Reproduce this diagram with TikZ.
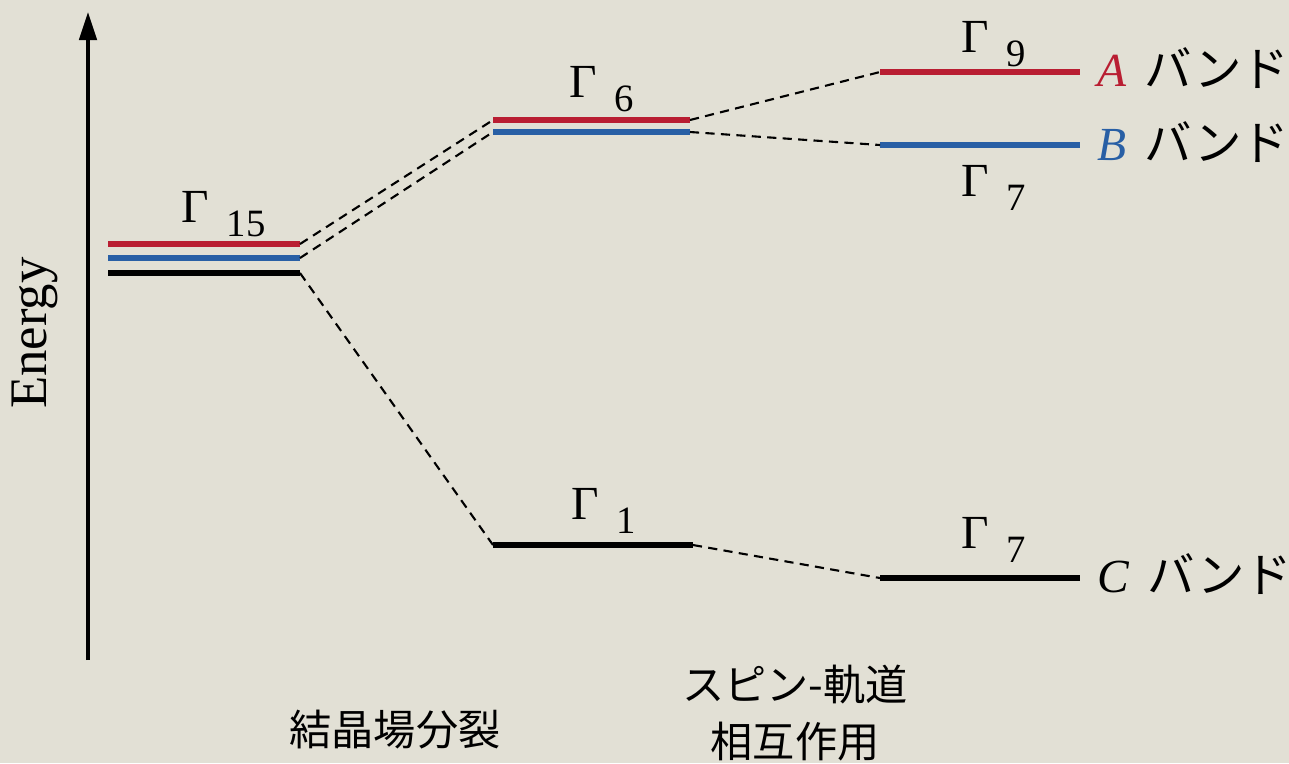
\documentclass[tikz,border=0pt]{standalone}
\usepackage{fontspec}
\setmainfont{Liberation Serif}
\newfontfamily\jpfont{Noto Sans CJK JP}
\usepackage{xcolor}
\definecolor{pagebg}{RGB}{226,224,213}
\definecolor{bandred}{RGB}{185,30,50}
\definecolor{bandblue}{RGB}{40,95,165}
\usetikzlibrary{arrows.meta}
% Gamma with lowered index
\newcommand{\glab}[1]{Γ\hspace{5pt}\raisebox{-4pt}{\fontsize{11pt}{12pt}\selectfont #1}}

\begin{document}
\begin{tikzpicture}[x=0.01cm, y=-0.01cm,
    level/.style={line width=1.5pt},
    link/.style={line width=0.6pt, dash pattern=on 2.6pt off 1.8pt},
    gam/.style={anchor=base west, inner sep=0pt, font=\fontsize{13.5pt}{15pt}\selectfont},
    band/.style={anchor=base west, inner sep=0pt, font=\fontsize{13.5pt}{15pt}\selectfont},
    jlab/.style={font=\jpfont\fontsize{12pt}{16pt}\selectfont, align=center}]

% === Page ===
\fill[pagebg] (0,0) rectangle (1289,763);
\useasboundingbox (0,0) rectangle (1289,763);

% === Energy axis ===
\coordinate (ebot) at (88,660);
\coordinate (etop) at (88,12);
\draw[line width=0.9pt, -{Triangle[length=8pt,width=5pt]}] (ebot) -- (etop);
\node[rotate=90, font=\fontsize{15pt}{17pt}\selectfont] (energy) at (35,333) {Energy};

% === Gamma 15 (three levels) ===
\foreach \nm/\y/\col in {a/244/bandred, b/258/bandblue, c/273/black} {
    \coordinate (g15\nm L) at (108,\y);
    \coordinate (g15\nm R) at (300,\y);
    \draw[level, \col] (g15\nm L) -- (g15\nm R);
}
\node[gam] (g15lab) at (181,222) {\glab{15}};

% === Crystal field: Gamma 6 and Gamma 1 ===
\foreach \nm/\y/\col in {a/120/bandred, b/132/bandblue} {
    \coordinate (g6\nm L) at (493,\y);
    \coordinate (g6\nm R) at (690,\y);
    \draw[level, \col] (g6\nm L) -- (g6\nm R);
}
\node[gam] (g6lab) at (569,97) {\glab{6}};

\coordinate (g1L) at (493,545);
\coordinate (g1R) at (693,545);
\draw[level] (g1L) -- (g1R);
\node[gam] (g1lab) at (571,519) {\glab{1}};

% === Spin-orbit: A, B, C bands ===
\coordinate (aL) at (880,72);  \coordinate (aR) at (1080,72);
\coordinate (bL) at (880,145); \coordinate (bR) at (1080,145);
\coordinate (cL) at (880,578); \coordinate (cR) at (1080,578);
\draw[level, bandred] (aL) -- (aR);
\draw[level, bandblue] (bL) -- (bR);
\draw[level] (cL) -- (cR);

\node[gam] (g9lab) at (961,52) {\glab{9}};
\node[gam] (g7blab) at (961,196) {\glab{7}};
\node[gam] (g7clab) at (961,548) {\glab{7}};

\node[band] (alab) at (1097,86) {{\color{bandred}\textit{A}}\hspace{5pt}{\jpfont バンド}};
\node[band] (blab) at (1097,160) {{\color{bandblue}\textit{B}}\hspace{5pt}{\jpfont バンド}};
\node[band] (clab) at (1097,592) {\textit{C}\hspace{5pt}{\jpfont バンド}};

% === Dashed connectors ===
\draw[link] (g15aR) -- (g6aL);
\draw[link] (g15bR) -- (g6bL);
\draw[link] (g15cR) -- (g1L);
\draw[link] (g6aR) -- (aL);
\draw[link] (g6bR) -- (bL);
\draw[link] (g1R) -- (cL);

% === Bottom captions ===
\node[jlab] (cfs) at (395,730) {結晶場分裂};
\node[jlab] (soi) at (795,713) {スピン-軌道\\相互作用};

\end{tikzpicture}
\end{document}
